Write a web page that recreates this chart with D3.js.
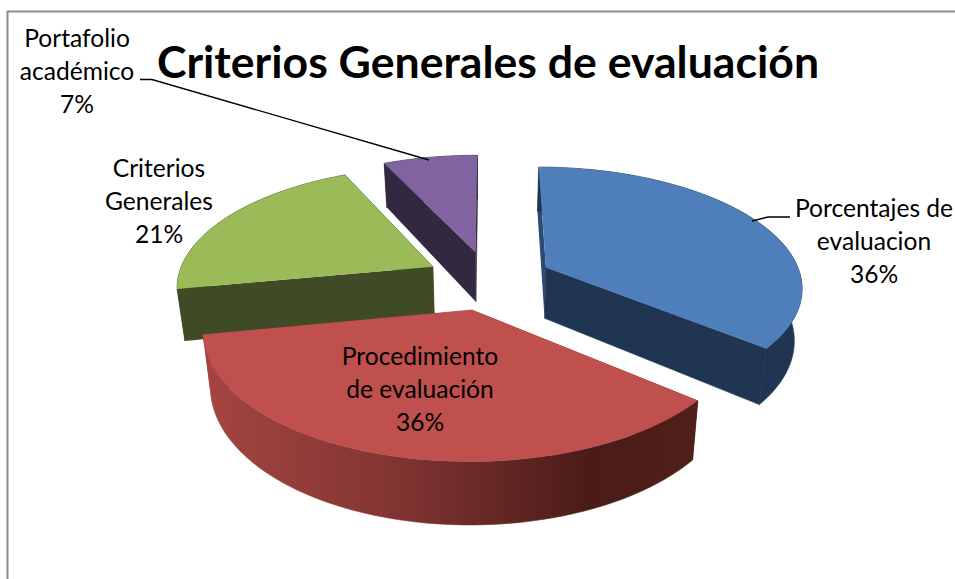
<!DOCTYPE html>
<html>
<head>
<meta charset="utf-8">
<script src="https://cdn.jsdelivr.net/npm/d3@7"></script>
<style>
  html, body { margin: 0; padding: 0; background: #fff; overflow: hidden; }
  text { font-family: Lato, "Open Sans", sans-serif; fill: #000; }
</style>
</head>
<body>
<div id="chart"></div>
<script>
// chart data
var chartTitle = "Criterios Generales de evaluación";
var categories = ["Porcentajes de evaluacion", "Procedimiento de evaluación", "Criterios Generales", "Portafolio académico"];
var values = [36, 36, 21, 7];
var labelLines = [
    ["Porcentajes de", "evaluacion", "36%"],
    ["Procedimiento", "de evaluación", "36%"],
    ["Criterios", "Generales", "21%"],
    ["Portafolio", "académico", "7%"]
];
var topColors = ["#4f7fbb", "#bf504d", "#9bbb59", "#8064a2"];
var wallColors = ["#1f3552", "url(#redWall)", "#3f4b24", "#332842"];

var svgWidth = 955;
var svgHeight = 579;

// pie projection: a disc seen in perspective, the back shrinks
var centerX = 489;
var centerY = 280;
var radiusX = 256;
var radiusY = 119;
var perspective = 0.15;
var explode = 0.25;
var depth = 51.5;
var bottomShrink = 0.975;

var svg = d3.select("#chart")
    .append("svg")
    .attr("width", svgWidth)
    .attr("height", svgHeight);

// gradient of the red slice outer wall
var redWall = svg.append("defs").append("linearGradient")
    .attr("id", "redWall")
    .attr("gradientUnits", "userSpaceOnUse")
    .attr("x1", 207).attr("x2", 700).attr("y1", 0).attr("y2", 0);
redWall.append("stop").attr("offset", "0").attr("stop-color", "#a54541");
redWall.append("stop").attr("offset", "0.4").attr("stop-color", "#7f3431");
redWall.append("stop").attr("offset", "0.78").attr("stop-color", "#4a1b18");
redWall.append("stop").attr("offset", "1").attr("stop-color", "#502019");

// chart frame: only top and left sides show in the picture
svg.append("path")
    .attr("d", "M7.5,579V11.5H955")
    .attr("fill", "none")
    .attr("stroke", "#8c8c8c")
    .attr("stroke-width", 2);

// pie layout, clockwise from 12 o'clock
var pie = d3.pie().sort(null).value(d => d);
var slices = pie(values);

// u, v are positions on the disc, 1 = radius
function project(u, v, isBottom) {
    var s = 1 / (1 + perspective * v);
    var dx = radiusX * u * s;
    var dy = -radiusY * v * s;
    if (isBottom) {
        return [centerX + dx * bottomShrink, centerY + dy + depth * s];
    }
    return [centerX + dx, centerY + dy];
}

function arcPoints(slice, isBottom) {
    var mid = (slice.startAngle + slice.endAngle) / 2;
    var ou = explode * Math.sin(mid);
    var ov = explode * Math.cos(mid);
    var angles = d3.range(0, 61).map(i => slice.startAngle + (slice.endAngle - slice.startAngle) * i / 60);
    return angles.map(a => project(ou + Math.sin(a), ov + Math.cos(a), isBottom));
}

function apexPoint(slice, isBottom) {
    var mid = (slice.startAngle + slice.endAngle) / 2;
    return project(explode * Math.sin(mid), explode * Math.cos(mid), isBottom);
}

var line = d3.line().curve(d3.curveLinear);

// back slices first so the red one lies on top
var drawOrder = [3, 2, 0, 1];

drawOrder.forEach(function(i) {
    var slice = slices[i];
    var g = svg.append("g").attr("class", "slice");
    var apexTop = apexPoint(slice, false);
    var apexBottom = apexPoint(slice, true);
    var topArc = arcPoints(slice, false);
    var bottomArc = arcPoints(slice, true);
    var startColor = i === 0 ? "#2b4a74" : wallColors[i];
    var endColor = i === 1 ? "#a54541" : wallColors[i];

    // start side
    g.append("path")
        .attr("d", line([apexTop, topArc[0], bottomArc[0], apexBottom]) + "Z")
        .attr("fill", startColor);

    // end side, stroked so no seam shows next to the wall
    g.append("path")
        .attr("d", line([apexTop, topArc[60], bottomArc[60], apexBottom]) + "Z")
        .attr("fill", endColor)
        .attr("stroke", endColor)
        .attr("stroke-width", 0.6);

    // outer wall
    g.append("path")
        .attr("d", line(topArc.concat(bottomArc.slice().reverse())) + "Z")
        .attr("fill", wallColors[i])
        .attr("stroke", wallColors[i])
        .attr("stroke-width", 0.6);

    // top face
    g.append("path")
        .attr("d", line([apexTop].concat(topArc)) + "Z")
        .attr("fill", topColors[i]);
});

// leader lines
var leaders = svg.append("g")
    .attr("fill", "none")
    .attr("stroke", "#000")
    .attr("stroke-width", 1.4);
leaders.append("path").attr("d", line([[140, 79.5], [152, 79.5], [429, 160]]));
leaders.append("path").attr("d", line([[752, 221], [768, 217], [790, 217]]));

// title
svg.append("text")
    .attr("x", 488)
    .attr("y", 78)
    .attr("text-anchor", "middle")
    .attr("font-size", 44.6)
    .attr("font-weight", 700)
    .text(chartTitle);

// data labels
var labelSpots = [
    { x: 874, y: 217 },
    { x: 420, y: 365 },
    { x: 159, y: 177 },
    { x: 77, y: 47 }
];

svg.selectAll("text.label")
    .data(labelLines)
    .enter()
    .append("text")
    .attr("class", "label")
    .attr("font-size", 24.6)
    .attr("text-anchor", "middle")
    .attr("data-category", (d, i) => categories[i])
    .each(function(d, i) {
        d3.select(this).selectAll("tspan")
            .data(d)
            .enter()
            .append("tspan")
            .attr("x", labelSpots[i].x)
            .attr("y", (t, j) => labelSpots[i].y + j * 33)
            .text(t => t);
    });
</script>
</body>
</html>
